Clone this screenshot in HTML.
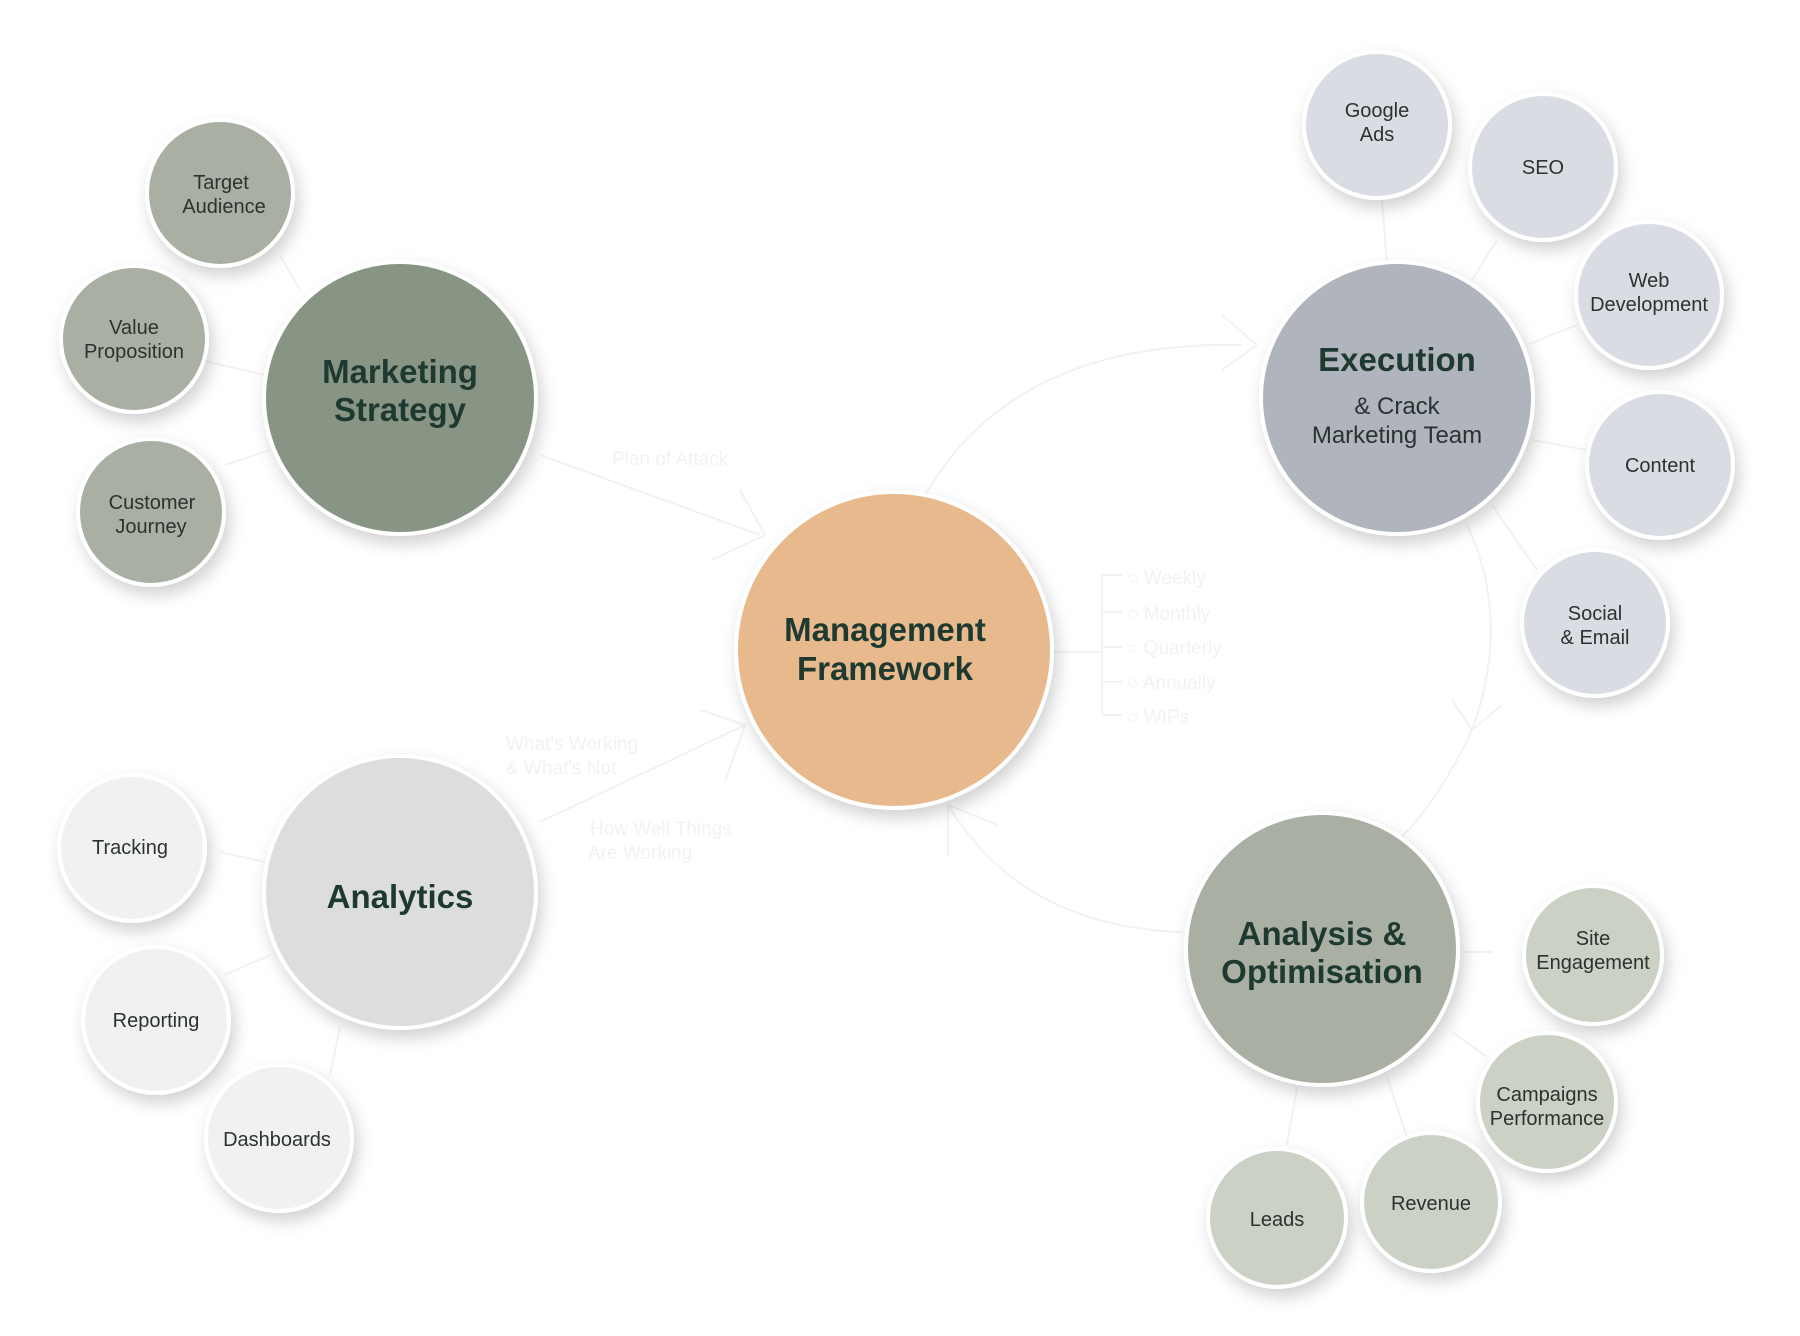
<!DOCTYPE html>
<html><head><meta charset="utf-8"><style>
html,body{margin:0;padding:0;background:#fff}
svg{display:block}
text{font-family:"Liberation Sans",sans-serif;text-anchor:middle}
.big{font-size:33px;font-weight:bold;fill:#1e3a30}
.sm{font-size:20px;fill:#2a3330}
.faint{font-size:19px;fill:#f2f2f2;text-anchor:start}
</style></head><body>
<svg width="1800" height="1336" viewBox="0 0 1800 1336" xmlns="http://www.w3.org/2000/svg">
<defs>
<filter id="sh" x="-30%" y="-30%" width="160%" height="160%">
<feDropShadow dx="4" dy="8" stdDeviation="8" flood-color="#000" flood-opacity="0.18"/>
</filter>
</defs>
<g stroke="#f2f2f2" stroke-width="2" fill="none">
<path d="M540 455 L760 535"/><path d="M740 490 L765 535 L712 560"/>
<path d="M540 822 L745 725"/><path d="M700 710 L745 725 L725 782"/>
<path d="M925 495 Q1015 340 1242 345"/><path d="M1222 315 L1257 345 L1222 370"/>
<path d="M1467 525 Q1512 620 1472 730 Q1432 815 1382 855"/><path d="M1452 700 L1472 730 L1502 705"/>
<path d="M1182 932 Q1022 927 948 805"/><path d="M948 855 L948 805 L998 825"/>
<path d="M1052 652 L1102 652 M1102 575 L1102 715 M1102 575 L1122 575 M1102 612 L1122 612 M1102 647 L1122 647 M1102 682 L1122 682 M1102 715 L1122 715"/>
<path d="M280 255 L300 290 M200 360 L265 375 M225 465 L270 450 M1382 200 L1387 265 M1497 240 L1472 280 M1577 325 L1527 345 M1587 450 L1532 440 M1537 570 L1492 505 M220 852 L265 862 M225 975 L270 955 M330 1075 L340 1027 M1462 952 L1492 952 M1452 1032 L1487 1057 M1387 1077 L1407 1137 M1297 1087 L1287 1145"/>
</g>
<text class="faint" x="612" y="465">Plan of Attack</text>
<text class="faint" x="506" y="750">What's Working</text>
<text class="faint" x="506" y="774">&amp; What's Not</text>
<text class="faint" x="590" y="835">How Well Things</text>
<text class="faint" x="588" y="859">Are Working</text>
<text class="faint" x="1127" y="584">○ Weekly</text>
<text class="faint" x="1127" y="620">○ Monthly</text>
<text class="faint" x="1127" y="654">○ Quarterly</text>
<text class="faint" x="1127" y="689">○ Annually</text>
<text class="faint" x="1127" y="723">○ WIPs</text>

<g stroke="#fff" stroke-width="4" filter="url(#sh)">
<circle cx="894" cy="650" r="158" fill="#e8b98c"/>
<circle cx="400" cy="398" r="136" fill="#889484"/>
<circle cx="220" cy="193" r="73" fill="#a9b0a3"/>
<circle cx="134" cy="339" r="73" fill="#a9b0a3"/>
<circle cx="151" cy="512" r="73" fill="#a9b0a3"/>
<circle cx="1397" cy="398" r="136" fill="#b0b5bd"/>
<circle cx="1377" cy="125" r="73" fill="#d9dde3"/>
<circle cx="1543" cy="167" r="73" fill="#d9dde3"/>
<circle cx="1649" cy="295" r="73" fill="#d9dde3"/>
<circle cx="1660" cy="465" r="73" fill="#d9dde3"/>
<circle cx="1595" cy="623" r="73" fill="#d9dde3"/>
<circle cx="400" cy="892" r="136" fill="#dddde0"/>
<circle cx="132" cy="848" r="73" fill="#f1f0f3"/>
<circle cx="156" cy="1020" r="73" fill="#f1f0f3"/>
<circle cx="279" cy="1138" r="73" fill="#f1f0f3"/>
<circle cx="1322" cy="949" r="136" fill="#a9b0a3"/>
<circle cx="1593" cy="955" r="69" fill="#ccd1c6"/>
<circle cx="1547" cy="1102" r="69" fill="#ccd1c6"/>
<circle cx="1431" cy="1202" r="69" fill="#ccd1c6"/>
<circle cx="1277" cy="1218" r="69" fill="#ccd1c6"/>
</g>

<text class="big" x="885" y="641">Management</text>
<text class="big" x="885" y="680">Framework</text>
<text class="big" x="400" y="383">Marketing</text>
<text class="big" x="400" y="421">Strategy</text>
<text class="big" x="1397" y="371">Execution</text>
<text class="sm" x="1397" y="414" style="font-size:24px">&amp; Crack</text>
<text class="sm" x="1397" y="443" style="font-size:24px">Marketing Team</text>
<text class="big" x="400" y="908">Analytics</text>
<text class="big" x="1322" y="945">Analysis &amp;</text>
<text class="big" x="1322" y="983">Optimisation</text>

<text class="sm" x="221" y="189">Target</text><text class="sm" x="224" y="213">Audience</text>
<text class="sm" x="134" y="334">Value</text><text class="sm" x="134" y="358">Proposition</text>
<text class="sm" x="152" y="509">Customer</text><text class="sm" x="151" y="533">Journey</text>
<text class="sm" x="1377" y="117">Google</text><text class="sm" x="1377" y="141">Ads</text>
<text class="sm" x="1543" y="174">SEO</text>
<text class="sm" x="1649" y="287">Web</text><text class="sm" x="1649" y="311">Development</text>
<text class="sm" x="1660" y="472">Content</text>
<text class="sm" x="1595" y="620">Social</text><text class="sm" x="1595" y="644">&amp; Email</text>
<text class="sm" x="130" y="854">Tracking</text>
<text class="sm" x="156" y="1027">Reporting</text>
<text class="sm" x="277" y="1146">Dashboards</text>
<text class="sm" x="1593" y="945">Site</text><text class="sm" x="1593" y="969">Engagement</text>
<text class="sm" x="1547" y="1101">Campaigns</text><text class="sm" x="1547" y="1125">Performance</text>
<text class="sm" x="1431" y="1210">Revenue</text>
<text class="sm" x="1277" y="1226">Leads</text>
</svg>
</body></html>
